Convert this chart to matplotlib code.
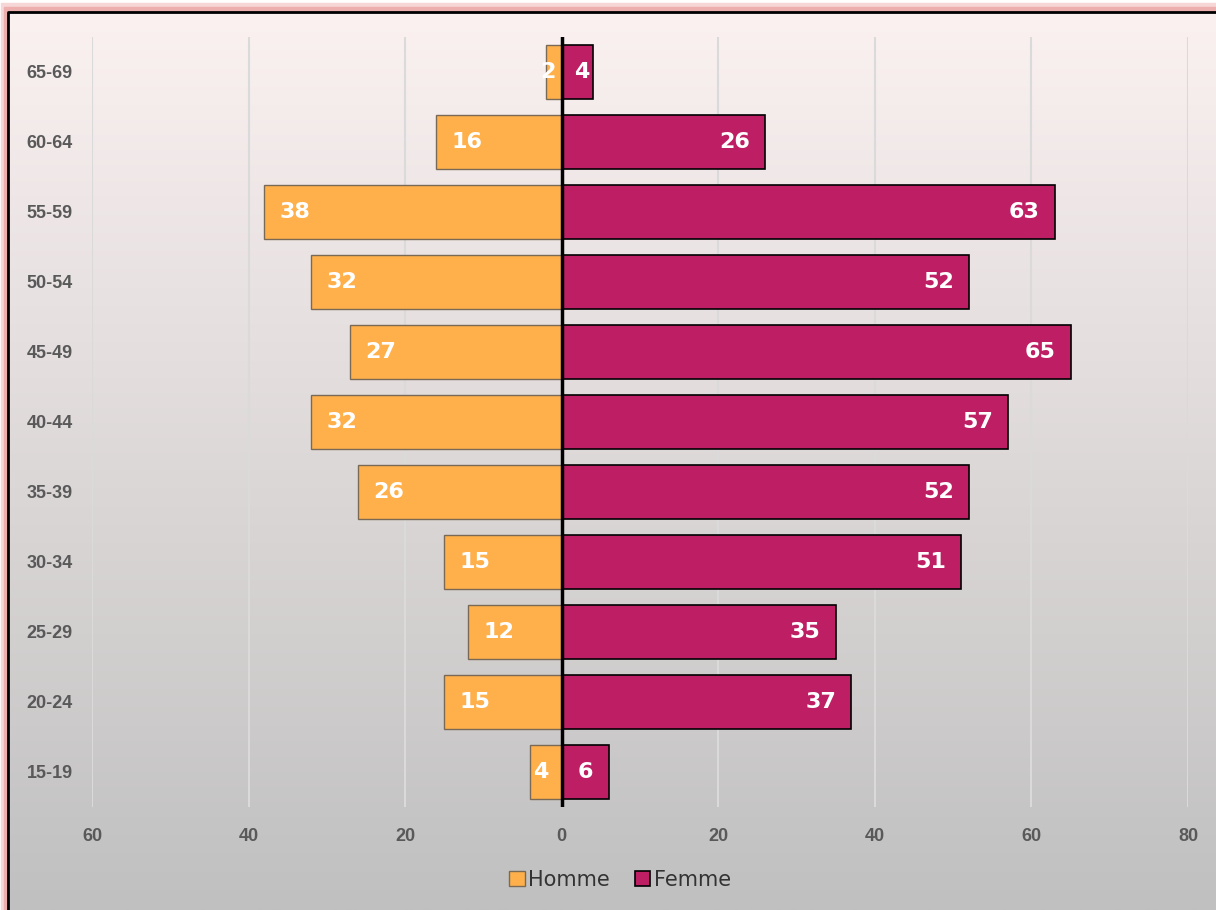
import numpy as np
import matplotlib.pyplot as plt
from matplotlib.patches import Rectangle

# age groups from bottom to top
ages = ["15-19", "20-24", "25-29", "30-34", "35-39", "40-44",
        "45-49", "50-54", "55-59", "60-64", "65-69"]
homme = [4, 15, 12, 15, 26, 32, 27, 32, 38, 16, 2]
femme = [6, 37, 35, 51, 52, 57, 65, 52, 63, 26, 4]
xticks = [-60, -40, -20, 0, 20, 40, 60, 80]

c_h = "#FFB04A"
c_f = "#BE1E63"
W, H = 1216, 910

fig = plt.figure(figsize=(W / 100, H / 100), dpi=100)

# background: pink glow + grey/pink gradient panel with black frame
bg = fig.add_axes([0, 0, 1, 1], zorder=-5)
bg.axis("off")
bg.add_patch(Rectangle((0, 0), W, H, color="white", zorder=0))
bg.add_patch(Rectangle((1, 3), W, H, color="#F6D6D6", zorder=0.5))
bg.add_patch(Rectangle((4, 7), W, H, color="#EDAEAE", zorder=0.6))
grad = np.linspace(0, 1, 256).reshape(-1, 1)
top = np.array([251, 241, 241]) / 255
bot = np.array([192, 192, 192]) / 255
img = top + (bot - top) * grad[..., None]
bg.imshow(img, extent=(8, W, H, 12), aspect="auto", interpolation="bilinear", zorder=1)
bg.plot([8, 8, W], [H, 12, 12], color="black", lw=2, zorder=2)
bg.set_xlim(0, W)
bg.set_ylim(H, 0)

ax = fig.add_axes([92 / W, 1 - 807 / H, (1188 - 92) / W, (807 - 37) / H])
ax.set_facecolor("none")
y = np.arange(len(ages))
bh = 0.77
ax.barh(y, [-v for v in homme], height=bh, color=c_h, edgecolor="#7A6A55", linewidth=1, zorder=3)
ax.barh(y, femme, height=bh, color=c_f, edgecolor="black", linewidth=1.2, zorder=3)
ax.axvline(0, color="black", lw=2.5, zorder=4)

lab_font = dict(color="white", fontsize=16, fontweight="bold", family="DejaVu Sans", zorder=5)
for i in range(len(ages)):
    h = homme[i]
    if h > 6:
        ax.annotate(str(h), (-h, i), xytext=(11, 0), textcoords="offset points",
                    ha="left", va="center", **lab_font)
    else:
        ax.annotate(str(h), (-h / 2, i), xytext=(-4, 0), textcoords="offset points",
                    ha="center", va="center", **lab_font)
    f = femme[i]
    if f > 5:
        ax.annotate(str(f), (f, i), xytext=(-11, 0), textcoords="offset points",
                    ha="right", va="center", **lab_font)
    else:
        ax.annotate(str(f), (f / 2, i), xytext=(3, 0), textcoords="offset points",
                    ha="center", va="center", **lab_font)

ax.set_xlim(-60, 80)
ax.set_ylim(-0.5, len(ages) - 0.5)
ax.set_xticks(xticks)
ax.set_xticklabels([str(abs(t)) for t in xticks])
ax.set_yticks(y)
ax.set_yticklabels(ages)
for s in ax.spines.values():
    s.set_visible(False)
ax.tick_params(length=0, colors="#595959", labelsize=13)
ax.tick_params(axis="x", pad=15)
ax.tick_params(axis="y", pad=14)
for t in ax.get_xticklabels() + ax.get_yticklabels():
    t.set_fontweight("bold")
    t.set_family("Liberation Sans")
ax.grid(axis="x", color="#DADADA", lw=1.5, zorder=0)
ax.set_axisbelow(True)

handles = [Rectangle((0, 0), 1, 1, facecolor=c_h, edgecolor="#7A6A55", lw=1),
           Rectangle((0, 0), 1, 1, facecolor=c_f, edgecolor="black", lw=1.2)]
leg = fig.legend(handles, ["Homme", "Femme"], loc="center", bbox_to_anchor=(620 / W, 1 - 880 / H),
                 ncol=2, frameon=False, handlelength=0.75, handleheight=0.75,
                 handletextpad=0.15, columnspacing=1.2, prop={"family": "DejaVu Sans", "size": 15})
for t in leg.get_texts():
    t.set_color("#333333")

fig.savefig("out.png", dpi=100)
